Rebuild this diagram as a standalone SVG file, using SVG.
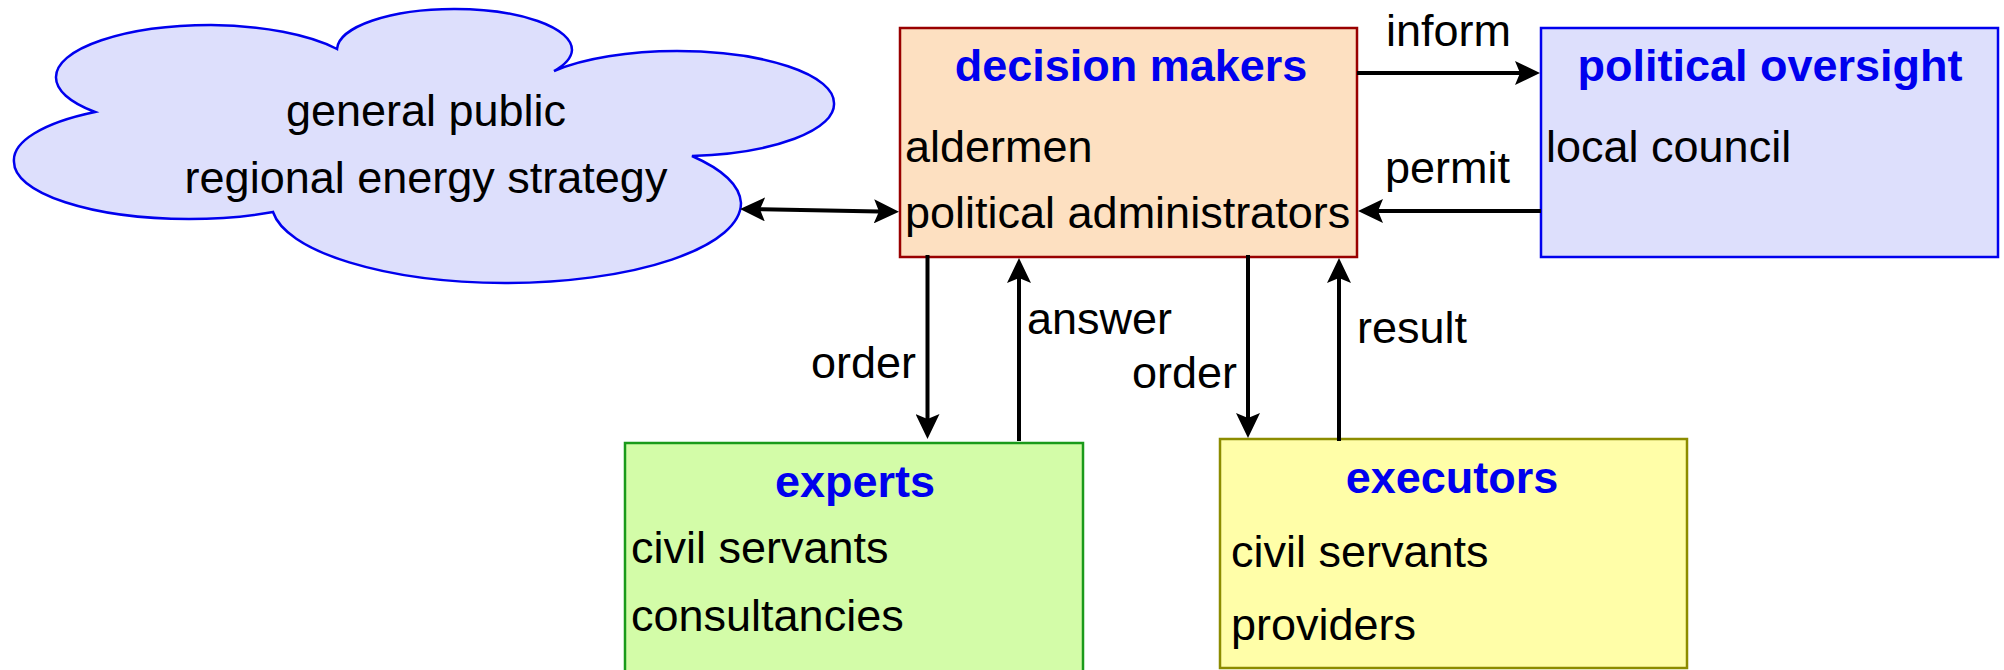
<svg xmlns="http://www.w3.org/2000/svg" width="2004" height="670" viewBox="0 0 2004 670">
  <style>
    text { font-family: "Liberation Sans", Arial, sans-serif; font-size: 45px; fill: #000; }
    .title { font-weight: bold; fill: #0000ee; text-anchor: middle; }
    .mid { text-anchor: middle; }
    .end { text-anchor: end; }
    .conn { stroke: #000; stroke-width: 4; fill: none; }
    .lavender { fill: #dddffc; stroke: #0000ee; stroke-width: 2.5; }
  </style>
  <defs>
    <marker id="head" viewBox="0 0 25 24" markerWidth="25" markerHeight="24" markerUnits="userSpaceOnUse" refX="5" refY="12" orient="auto-start-reverse">
      <path d="M0,0 L25,12 L0,24 L5,12 Z" fill="#000"/>
    </marker>
  </defs>

  <rect width="2004" height="670" fill="#fff"/>

  <!-- cloud: general public (five elliptical lobes) -->
  <g id="general-public">
    <path class="lavender" d="M95,112
      A155,52 0 0 1 56,77 A155,52 0 0 1 211,25 A155,52 0 0 1 337,49
      A117,41 0 0 1 455,9 A117,41 0 0 1 572,50 A117,41 0 0 1 554,71
      A157,52 0 0 1 677,51 A157,52 0 0 1 834,103 A157,52 0 0 1 692,156
      A236,80 0 0 1 741,203 A236,80 0 0 1 505,283 A236,80 0 0 1 273,212
      A175,57 0 0 1 189,219 A175,57 0 0 1 14,162 A175,57 0 0 1 95,112 Z"/>
    <text class="mid" x="426" y="126">general public</text>
    <text class="mid" x="426" y="193">regional energy strategy</text>
  </g>

  <!-- decision makers -->
  <g id="decision-makers">
    <rect x="900" y="28" width="457" height="229" fill="#fde0c1" stroke="#990000" stroke-width="2.5"/>
    <text class="title" x="1131" y="81">decision makers</text>
    <text x="905" y="162">aldermen</text>
    <text x="905" y="228">political administrators</text>
  </g>

  <!-- political oversight -->
  <g id="political-oversight">
    <rect class="lavender" x="1541" y="28" width="457" height="229"/>
    <text class="title" x="1770" y="81">political oversight</text>
    <text x="1546" y="162">local council</text>
  </g>

  <!-- experts -->
  <g id="experts">
    <rect x="625" y="443" width="458" height="240" fill="#d3fca8" stroke="#1a9a1a" stroke-width="2.5"/>
    <text class="title" x="855" y="497">experts</text>
    <text x="631" y="563">civil servants</text>
    <text x="631" y="631">consultancies</text>
  </g>

  <!-- executors -->
  <g id="executors">
    <rect x="1220" y="439" width="467" height="229" fill="#fffea8" stroke="#8c8c00" stroke-width="2.5"/>
    <text class="title" x="1452" y="493">executors</text>
    <text x="1231" y="567">civil servants</text>
    <text x="1231" y="640">providers</text>
  </g>

  <!-- connectors -->
  <g id="connectors">
    <line class="conn" x1="1357" y1="73" x2="1520" y2="73" marker-end="url(#head)"/>
    <line class="conn" x1="1541" y1="211" x2="1378" y2="211" marker-end="url(#head)"/>
    <line class="conn" x1="760" y1="209.3" x2="879" y2="211.4" marker-start="url(#head)" marker-end="url(#head)"/>
    <line class="conn" x1="927.5" y1="255" x2="927.5" y2="419" marker-end="url(#head)"/>
    <line class="conn" x1="1019" y1="441" x2="1019" y2="278" marker-end="url(#head)"/>
    <line class="conn" x1="1248" y1="255" x2="1248" y2="418" marker-end="url(#head)"/>
    <line class="conn" x1="1339" y1="441" x2="1339" y2="278" marker-end="url(#head)"/>
    <text x="1386" y="46">inform</text>
    <text x="1385" y="183">permit</text>
    <text class="end" x="916" y="378">order</text>
    <text x="1027" y="334">answer</text>
    <text class="end" x="1237" y="388">order</text>
    <text x="1357" y="343">result</text>
  </g>
</svg>
